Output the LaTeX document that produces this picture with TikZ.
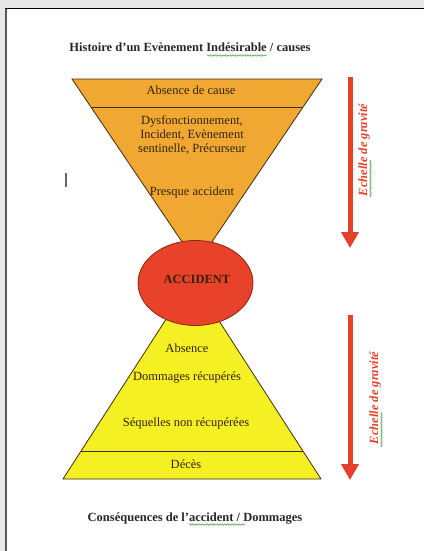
\documentclass[tikz,border=0pt]{standalone}
\usepackage{fontspec}
\setmainfont{Liberation Serif}
\usetikzlibrary{shapes.geometric,arrows.meta,decorations.pathmorphing}
\definecolor{bgcol}{RGB}{232,232,232}
\definecolor{orangefill}{RGB}{240,168,50}
\definecolor{yellowfill}{RGB}{245,240,35}
\definecolor{redfill}{RGB}{232,66,42}
\definecolor{redline}{RGB}{130,40,25}
\definecolor{arrowred}{RGB}{228,64,42}
\definecolor{edgecol}{RGB}{60,45,20}
\definecolor{textcol}{RGB}{50,35,15}
\definecolor{spellgreen}{RGB}{80,150,80}
\begin{document}
\begin{tikzpicture}[x=1pt,y=-1pt,
  lbl/.style={font=\fontsize{12.5}{14.5}\selectfont, text=textcol, inner sep=0pt, anchor=base},
  ttl/.style={lbl, font=\fontsize{12.5}{14.5}\selectfont\bfseries, text=black!85},
  scalelbl/.style={font=\fontsize{12.5}{14.5}\selectfont\bfseries\itshape, text=arrowred, inner sep=0pt, rotate=90},
  gravarrow/.style={draw=arrowred, line width=5pt, -{Triangle[length=16pt,width=17pt]}},
  spell/.style={draw=spellgreen, line width=0.5pt, decorate, decoration={snake, amplitude=0.7pt, segment length=2.5pt}},
  tri/.style={draw=edgecol, line width=0.8pt, line join=miter}]
\useasboundingbox (0,0) rectangle (424,551);
% page
\fill[bgcol] (0,0) rectangle (424,551);
\fill[white] (6,8) rectangle (424,551);
\draw[black!65, line width=2pt] (6,8) -- (6,551);
\draw[black, line width=0.8pt] (5,8) -- (424,8);
% titles
\node[ttl] (title) at (190,52) {Histoire d’un Evènement Indésirable / causes};
\node[ttl] (bottom) at (195,521) {Conséquences de l’accident / Dommages};
% yellow triangle
\draw[tri, fill=yellowfill] (63,479) -- (192,279) -- (321,479) -- cycle;
\draw[tri] (81.1,451) -- (302.9,451);
% orange triangle
\draw[tri, fill=orangefill] (72,79) -- (322,79) -- (197,264) -- cycle;
\draw[tri] (90.9,107) -- (303.1,107);
% accident ellipse
\node[ellipse, draw=redline, fill=redfill, line width=0.8pt, minimum width=115pt, minimum height=85pt, inner sep=0pt] (accshape) at (195.5,283) {};
\node[ttl, text=textcol] (acc) at (197,283) {ACCIDENT};
% orange texts
\node[lbl] (t1) at (191,94) {Absence de cause};
\node[lbl] (t2) at (192,124) {Dysfonctionnement,};
\node[lbl] (t3) at (192,138) {Incident, Evènement};
\node[lbl] (t4) at (192,152) {sentinelle, Précurseur};
\node[lbl] (t5) at (192,195) {Presque accident};
% yellow texts
\node[lbl] (y1) at (187,352) {Absence};
\node[lbl] (y2) at (187,380) {Dommages récupérés};
\node[lbl] (y3) at (186,426) {Séquelles non récupérées};
\node[lbl] (y4) at (186,468) {Décès};
% arrows
\coordinate (a1s) at (350,77);
\coordinate (a1e) at (350,248);
\draw[gravarrow] (a1s) -- (a1e);
\node[scalelbl] (g1) at (364,150) {Echelle de gravité};
\coordinate (a2s) at (350,315);
\coordinate (a2e) at (350,480);
\draw[gravarrow] (a2s) -- (a2e);
\node[scalelbl] (g2) at (375,398) {Echelle de gravité};
% text cursor
\coordinate (c1) at (66,173);
\coordinate (c2) at (66,187);
\draw[black!60, line width=1.2pt] (c1) -- (c2);
% spell-check marks
\coordinate (s1a) at (207,55.5); \coordinate (s1b) at (267,55.5);
\draw[spell] (s1a) -- (s1b);
\coordinate (s2a) at (189,524.5); \coordinate (s2b) at (245,524.5);
\draw[spell] (s2a) -- (s2b);
\coordinate (s3a) at (370.5,197); \coordinate (s3b) at (370.5,160);
\draw[spell] (s3a) -- (s3b);
\coordinate (s4a) at (381.5,447); \coordinate (s4b) at (381.5,412);
\draw[spell] (s4a) -- (s4b);
\end{tikzpicture}
\end{document}
